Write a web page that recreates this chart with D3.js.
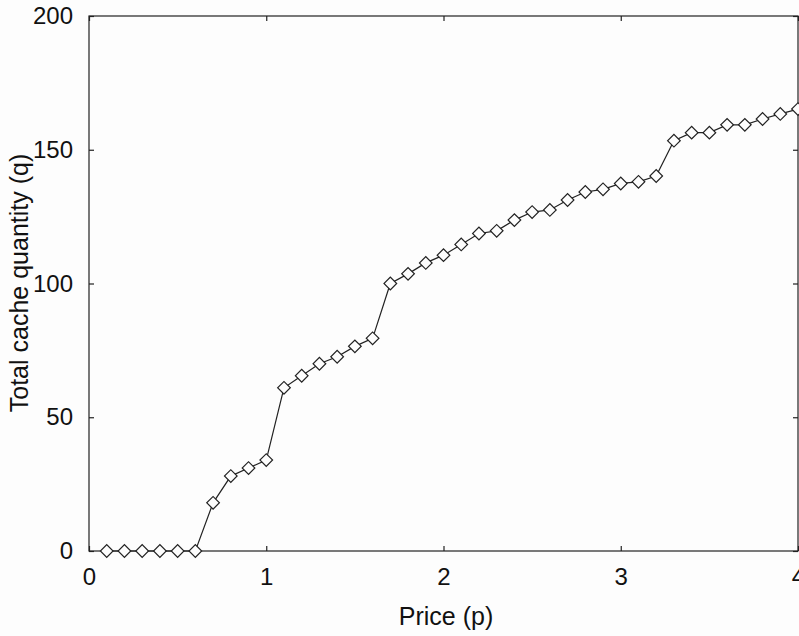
<!DOCTYPE html>
<html>
<head>
<meta charset="utf-8">
<script src="https://cdn.jsdelivr.net/npm/d3@7"></script>
<style>
  body { margin: 0; background: #fdfdfd; }
  svg { display: block; font-family: "Liberation Sans", Arial, sans-serif; }
</style>
</head>
<body>
<div id="chart"></div>
<script>
// price values (x) and total cache quantity (y)
var prices = [0.1, 0.2, 0.3, 0.4, 0.5, 0.6, 0.7, 0.8, 0.9, 1.0,
              1.1, 1.2, 1.3, 1.4, 1.5, 1.6, 1.7, 1.8, 1.9, 2.0,
              2.1, 2.2, 2.3, 2.4, 2.5, 2.6, 2.7, 2.8, 2.9, 3.0,
              3.1, 3.2, 3.3, 3.4, 3.5, 3.6, 3.7, 3.8, 3.9, 4.0];
var quantity = [0, 0, 0, 0, 0, 0, 18, 28, 31, 34,
                61, 65.5, 70, 72.6, 76.5, 79.5, 100, 103.6, 107.7, 110.6,
                114.6, 118.7, 119.7, 123.7, 126.7, 127.5, 131.2, 134.2, 135.2, 137.4,
                138, 140.2, 153.4, 156.4, 156.4, 159.3, 159.3, 161.5, 163.4, 165.2];
var xTicks = [0, 1, 2, 3, 4];
var yTicks = [0, 50, 100, 150, 200];

var width = 799, height = 636;
var margin = { top: 16, right: 1, bottom: 85, left: 89 };
var w = width - margin.left - margin.right,
    h = height - margin.top - margin.bottom;

var svg = d3.select("#chart").append("svg")
  .attr("width", width)
  .attr("height", height);

var g = svg.append("g")
  .attr("transform", "translate(" + margin.left + "," + margin.top + ")");

var x = d3.scaleLinear().domain([0, 4]).range([0, w]);
var y = d3.scaleLinear().domain([0, 200]).range([h, 0]);

var data = prices.map(function (p, i) { return { x: p, y: quantity[i] }; });

// frame
g.append("rect")
  .attr("width", w).attr("height", h)
  .attr("fill", "none").attr("stroke", "#222").attr("stroke-width", 1.2);

// axes with inward ticks
function styleAxis(sel) {
  sel.select(".domain").remove();
  sel.selectAll("line").attr("stroke", "#222").attr("stroke-width", 1.2);
  sel.selectAll("text").attr("fill", "#111").style("font-size", "24px");
}

g.append("g")
  .attr("transform", "translate(0," + h + ")")
  .call(d3.axisBottom(x).tickValues(xTicks).tickFormat(d3.format("d")).tickSizeInner(-5).tickPadding(17))
  .call(styleAxis);

g.append("g")
  .call(d3.axisTop(x).tickValues(xTicks).tickFormat("").tickSizeInner(-5))
  .call(styleAxis);

g.append("g")
  .call(d3.axisLeft(y).tickValues(yTicks).tickFormat(d3.format("d")).tickSizeInner(-5).tickPadding(16))
  .call(styleAxis);

g.append("g")
  .attr("transform", "translate(" + w + ",0)")
  .call(d3.axisRight(y).tickValues(yTicks).tickFormat("").tickSizeInner(-5))
  .call(styleAxis);

// the line
var line = d3.line()
  .x(function (d) { return x(d.x); })
  .y(function (d) { return y(d.y); });

g.append("path")
  .datum(data)
  .attr("d", line)
  .attr("fill", "none")
  .attr("stroke", "#222")
  .attr("stroke-width", 1.2);

// diamond markers
var diamond = d3.symbol().type(d3.symbolSquare).size(80);
g.selectAll(".dot")
  .data(data)
  .enter().append("path")
  .attr("class", "dot")
  .attr("d", diamond)
  .attr("transform", function (d) {
    return "translate(" + x(d.x) + "," + y(d.y) + ") rotate(45)";
  })
  .attr("fill", "#fdfdfd")
  .attr("stroke", "#222")
  .attr("stroke-width", 1.2);

// axis labels
svg.append("text")
  .attr("x", 446)
  .attr("y", 625)
  .attr("text-anchor", "middle")
  .style("font-size", "25px")
  .attr("fill", "#111")
  .text("Price (p)");

svg.append("text")
  .attr("transform", "translate(28,283) rotate(-90)")
  .attr("text-anchor", "middle")
  .style("font-size", "25px")
  .attr("fill", "#111")
  .text("Total cache quantity (q)");
</script>
</body>
</html>
